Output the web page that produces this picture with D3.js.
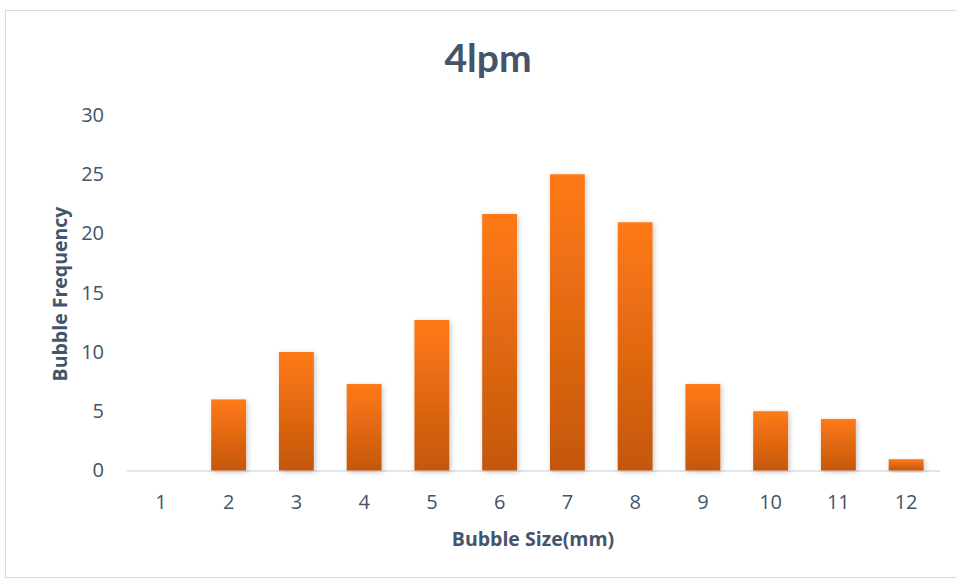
<!DOCTYPE html>
<html>
<head>
<meta charset="utf-8">
<script src="https://cdn.jsdelivr.net/npm/d3@7"></script>
<style>
  body { margin: 0; background: #fff; }
  svg { display: block; font-family: "Open Sans", Lato, sans-serif; }
</style>
</head>
<body>
<svg id="chart" width="956" height="581"></svg>
<script>
// Bubble size distribution at 4 lpm
const sizes = ["1", "2", "3", "4", "5", "6", "7", "8", "9", "10", "11", "12"];
const frequency = [0, 6.0, 10.0, 7.3, 12.7, 21.65, 25.0, 20.95, 7.3, 5.0, 4.35, 0.95];
const yTicks = [0, 5, 10, 15, 20, 25, 30];

const svg = d3.select("#chart");
const margin = { left: 127, right: 16, top: 115, bottom: 110.5 };
const W = 956, H = 581;
const textColor = "#44546A";

// outer frame
svg.append("rect")
  .attr("x", 5.5).attr("y", 10.5)
  .attr("width", 960).attr("height", 567)
  .attr("fill", "none").attr("stroke", "#D9D9D9").attr("stroke-width", 1);

const x = d3.scaleBand().domain(sizes).range([margin.left, W - margin.right]).paddingInner(0.485).paddingOuter(0.2425);
const y = d3.scaleLinear().domain([0, 30]).range([H - margin.bottom, margin.top]);

const defs = svg.append("defs");
const grad = defs.append("linearGradient").attr("id", "barGrad")
  .attr("x1", 0).attr("y1", 0).attr("x2", 0).attr("y2", 1);
grad.append("stop").attr("offset", "0%").attr("stop-color", "#FF7A14");
grad.append("stop").attr("offset", "100%").attr("stop-color", "#C4570F");

const shadow = defs.append("filter").attr("id", "shadow")
  .attr("x", "-30%").attr("y", "-10%").attr("width", "160%").attr("height", "130%");
shadow.append("feDropShadow").attr("dx", 1.5).attr("dy", 1.5).attr("stdDeviation", 2.5)
  .attr("flood-color", "#000").attr("flood-opacity", 0.22);

// baseline
svg.append("line")
  .attr("x1", margin.left).attr("x2", W - margin.right)
  .attr("y1", y(0) + 0.5).attr("y2", y(0) + 0.5)
  .attr("stroke", "#D9DEE6").attr("stroke-width", 1.5);

// bars
svg.append("g").selectAll("rect")
  .data(sizes.map((s, i) => ({ s, v: frequency[i] })).filter(d => d.v > 0))
  .join("rect")
  .attr("x", d => x(d.s))
  .attr("width", x.bandwidth())
  .attr("y", d => y(d.v))
  .attr("height", d => y(0) - y(d.v))
  .attr("fill", "url(#barGrad)")
  .attr("filter", "url(#shadow)");

// y axis labels
const yAxis = d3.axisLeft(y).tickValues(yTicks).tickSize(0).tickPadding(0);
svg.append("g")
  .attr("transform", `translate(${margin.left - 23},0)`)
  .call(yAxis)
  .call(g => g.select(".domain").remove())
  .call(g => g.selectAll("text")
    .attr("fill", textColor).attr("font-size", 20).attr("font-family", "'Open Sans', sans-serif"));

// x axis labels
const xAxis = d3.axisBottom(x).tickSize(0).tickPadding(0);
svg.append("g")
  .attr("transform", `translate(0,${y(0) + 24})`)
  .call(xAxis)
  .call(g => g.select(".domain").remove())
  .call(g => g.selectAll("text")
    .attr("fill", textColor).attr("font-size", 20).attr("font-family", "'Open Sans', sans-serif"));

// title
svg.append("text")
  .attr("x", 488).attr("y", 72)
  .attr("text-anchor", "middle")
  .attr("font-family", "Lato, sans-serif")
  .attr("font-size", 39).attr("font-weight", "bold")
  .attr("fill", textColor)
  .text("4lpm");

// axis titles
svg.append("text")
  .attr("x", 533).attr("y", 546)
  .attr("text-anchor", "middle")
  .attr("font-size", 19.5).attr("font-weight", "bold")
  .attr("fill", textColor)
  .text("Bubble Size(mm)");

svg.append("text")
  .attr("transform", "translate(67,294) rotate(-90)")
  .attr("text-anchor", "middle")
  .attr("font-size", 19.5).attr("font-weight", "bold")
  .attr("fill", textColor)
  .text("Bubble Frequency");
</script>
</body>
</html>
